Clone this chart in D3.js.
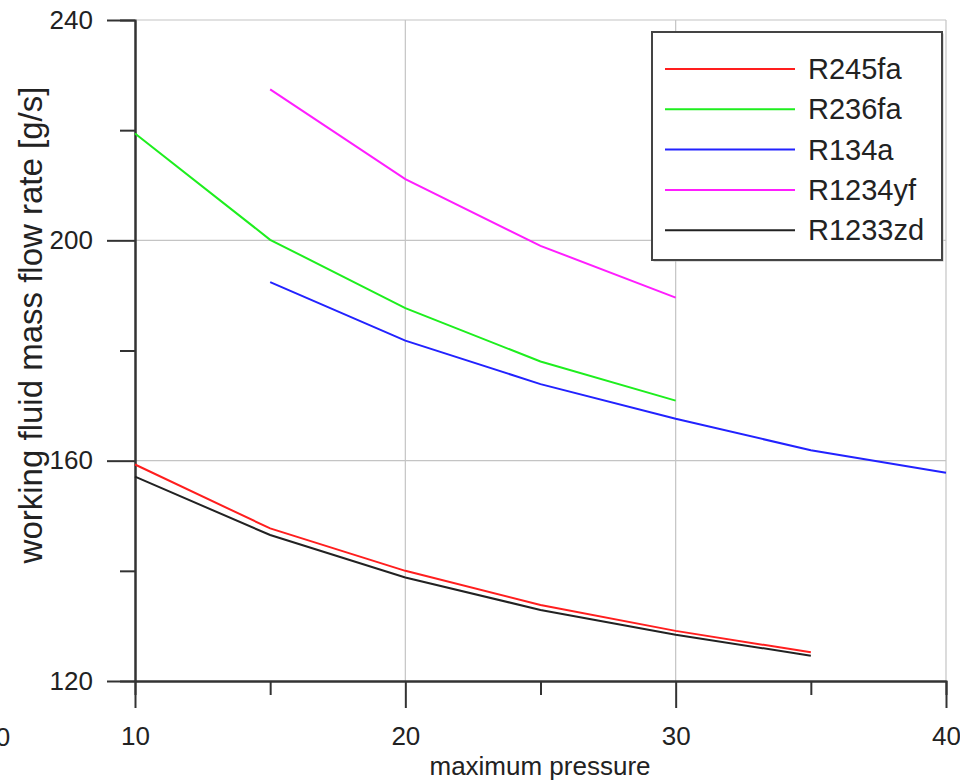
<!DOCTYPE html>
<html>
<head>
<meta charset="utf-8">
<script src="https://cdn.jsdelivr.net/npm/d3@7"></script>
<style>
	body { margin: 0; background: #fff; }
	svg text { font-family: "Liberation Sans", Arial, sans-serif; fill: #222; }
</style>
</head>
<body>
<svg id="chart" width="960" height="782"></svg>
<script>
var pressures = [10, 15, 20, 25, 30, 35, 40];

var r245fa  = [159.3, 147.7, 140.0, 133.8, 129.1, 125.2];
var r236fa  = [219.4, 200.1, 187.7, 178.0, 170.9];
var r134a   = [null, 192.4, 181.8, 173.9, 167.6, 161.9, 157.8];
var r1234yf = [null, 227.4, 211.1, 199.0, 189.6];
var r1233zd = [157.1, 146.5, 138.8, 132.9, 128.4, 124.6];

var seriesNames  = ['R245fa', 'R236fa', 'R134a', 'R1234yf', 'R1233zd'];
var seriesColors = ['#ff1e1e', '#1eee1e', '#2222ff', '#ff1eff', '#222222'];
var seriesValues = [r245fa, r236fa, r134a, r1234yf, r1233zd];

var xMajorTicks = [10, 20, 30, 40];
var xMinorTicks = [15, 25, 35];
var yMajorTicks = [120, 160, 200, 240];
var yMinorTicks = [140, 180, 220];

var Chart = {

	left: 135, right: 946, top: 20, bottom: 681,

	draw: function() {
		var svg = d3.select('#chart');

		var x = d3.scaleLinear().domain([10, 40]).range([Chart.left, Chart.right]);
		var y = d3.scaleLinear().domain([120, 240]).range([Chart.bottom, Chart.top]);

		// grid
		svg.append('g').selectAll('line')
			.data([20, 30, 40])
			.enter().append('line')
			.attr('x1', function(d) { return x(d); })
			.attr('x2', function(d) { return x(d); })
			.attr('y1', Chart.top).attr('y2', Chart.bottom)
			.style('stroke', '#c4c4c4').style('stroke-width', 1.2);

		svg.append('g').selectAll('line')
			.data([160, 200, 240])
			.enter().append('line')
			.attr('x1', Chart.left).attr('x2', Chart.right)
			.attr('y1', function(d) { return y(d); })
			.attr('y2', function(d) { return y(d); })
			.style('stroke', '#c4c4c4').style('stroke-width', 1.2);

		// axes
		var xMajor = svg.append('g')
			.attr('transform', 'translate(0,' + Chart.bottom + ')')
			.call(d3.axisBottom(x).tickValues(xMajorTicks).tickSize(27).tickSizeOuter(0).tickPadding(19));
		var xMinor = svg.append('g')
			.attr('transform', 'translate(0,' + Chart.bottom + ')')
			.call(d3.axisBottom(x).tickValues(xMinorTicks).tickSize(14).tickFormat(''));
		var yMajor = svg.append('g')
			.attr('transform', 'translate(' + Chart.left + ',0)')
			.call(d3.axisLeft(y).tickValues(yMajorTicks).tickSize(28).tickSizeOuter(0).tickPadding(14));
		var yMinor = svg.append('g')
			.attr('transform', 'translate(' + Chart.left + ',0)')
			.call(d3.axisLeft(y).tickValues(yMinorTicks).tickSize(15).tickFormat(''));

		[xMajor, xMinor, yMajor, yMinor].forEach(function(g) {
			g.selectAll('path, line').style('stroke', '#333').style('stroke-width', 2);
			g.selectAll('text').style('font-size', '26px').style('fill', '#222')
				.style('font-family', '"Liberation Sans", Arial, sans-serif');
		});

		// stray clipped label at the left edge
		svg.append('text')
			.attr('x', 3).attr('y', 746)
			.attr('text-anchor', 'middle')
			.style('font-size', '26px')
			.text('0');

		// axis titles
		svg.append('text')
			.attr('x', 540).attr('y', 775)
			.attr('text-anchor', 'middle')
			.style('font-size', '26px')
			.text('maximum pressure');

		svg.append('text')
			.attr('transform', 'translate(42,325) rotate(-90)')
			.attr('text-anchor', 'middle')
			.style('font-size', '33px')
			.text('working fluid mass flow rate [g/s]');

		// lines
		var line = d3.line()
			.defined(function(d) { return d.v != null; })
			.x(function(d) { return x(d.p); })
			.y(function(d) { return y(d.v); });

		seriesValues.forEach(function(vals, i) {
			var pts = vals.map(function(v, j) { return {p: pressures[j], v: v}; });
			svg.append('path')
				.datum(pts)
				.attr('d', line)
				.style('fill', 'none')
				.style('stroke', seriesColors[i])
				.style('stroke-width', 2);
		});

		Chart.legend(svg);
	},

	legend: function(svg) {
		var g = svg.append('g').attr('transform', 'translate(652,32)');
		g.append('rect')
			.attr('x', 1.5).attr('y', 1.5)
			.attr('width', 290).attr('height', 228)
			.style('fill', '#bbb');
		g.append('rect')
			.attr('width', 290).attr('height', 228)
			.style('fill', '#fff')
			.style('stroke', '#444')
			.style('stroke-width', 2);

		var rows = g.selectAll('g.row')
			.data(seriesNames)
			.enter().append('g')
			.attr('class', 'row')
			.attr('transform', function(d, i) { return 'translate(0,' + (37 + i * 40.3) + ')'; });

		rows.append('line')
			.attr('x1', 13).attr('x2', 143)
			.style('stroke', function(d, i) { return seriesColors[i]; })
			.style('stroke-width', 2);

		rows.append('text')
			.attr('x', 156).attr('y', 10)
			.style('font-size', '29px')
			.text(function(d) { return d; });
	}
};

Chart.draw();
</script>
</body>
</html>
